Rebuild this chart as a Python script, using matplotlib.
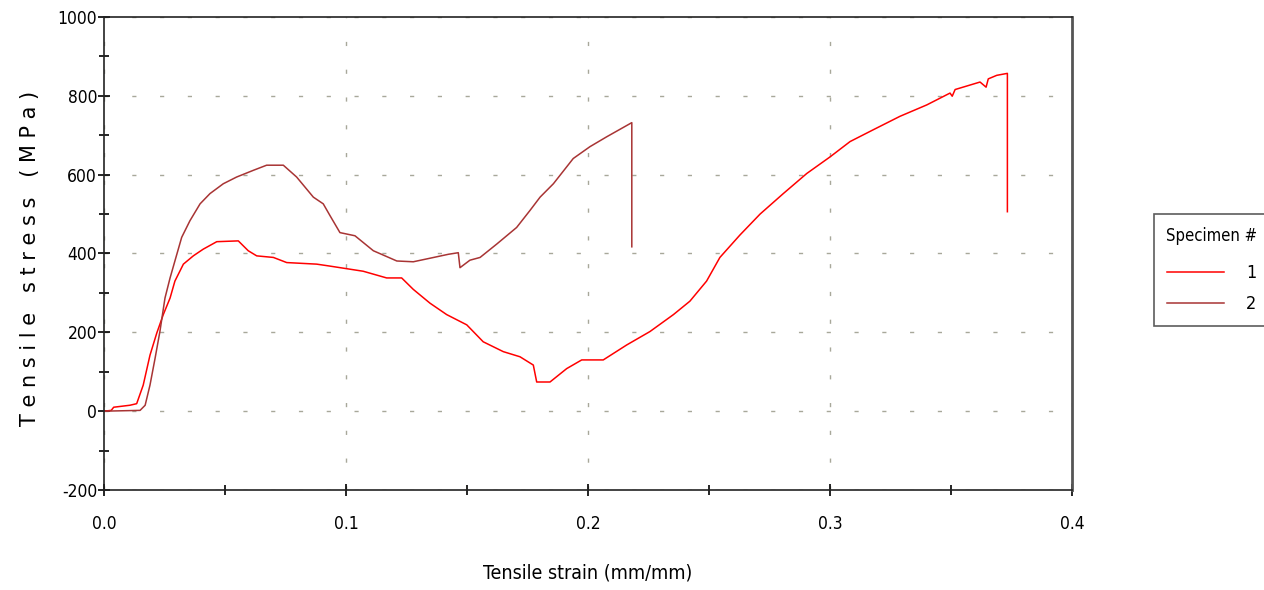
import numpy as np
import matplotlib.pyplot as plt
from matplotlib.ticker import MultipleLocator, FormatStrFormatter

plt.rcParams["axes.unicode_minus"] = False

# specimen 1 (bright red)
strain1 = [0.0, 0.003, 0.004, 0.0107, 0.0135, 0.0162, 0.019, 0.0218, 0.0245, 0.0273,
           0.0293, 0.0328, 0.0369, 0.041, 0.0466, 0.0555, 0.0596, 0.0631, 0.070, 0.0755,
           0.0879, 0.0934, 0.1071, 0.1168, 0.123, 0.1278, 0.1347, 0.1416, 0.1499, 0.1567,
           0.165, 0.1719, 0.1774, 0.1788, 0.1843, 0.1912, 0.1974, 0.2063, 0.216, 0.2256,
           0.2353, 0.2421, 0.249, 0.2545, 0.2628, 0.2711, 0.2807, 0.2904, 0.300, 0.3083,
           0.3179, 0.3289, 0.340, 0.3496, 0.3505, 0.3517, 0.362, 0.3645, 0.3654, 0.3689,
           0.3733, 0.3733]
stress1 = [0, 2, 10, 15, 19, 66, 142, 198, 245, 287,
           330, 373, 394, 411, 430, 432, 407, 394, 390, 377,
           373, 368, 355, 338, 338, 309, 274, 245, 219, 176,
           151, 138, 117, 74, 74, 108, 130, 130, 168, 202,
           245, 279, 330, 390, 447, 500, 552, 603, 645, 684,
           714, 748, 777, 807, 799, 816, 835, 822, 843, 852,
           857, 506]

# specimen 2 (dark red)
strain2 = [0.0, 0.0149, 0.017, 0.019, 0.0211, 0.0231, 0.0252, 0.0273, 0.0293, 0.0321,
           0.0355, 0.0397, 0.0438, 0.0493, 0.0548, 0.0617, 0.0672, 0.0741, 0.0796, 0.0865,
           0.0906, 0.0934, 0.0975, 0.1037, 0.1113, 0.121, 0.1278, 0.1347, 0.1423, 0.1464,
           0.1471, 0.1512, 0.1554, 0.1623, 0.1705, 0.176, 0.1802, 0.1857, 0.1939, 0.2008,
           0.2077, 0.2181, 0.2181]
stress2 = [0, 2, 15, 66, 134, 202, 287, 338, 381, 441,
           483, 526, 552, 577, 594, 611, 624, 624, 594, 543,
           526, 496, 453, 445, 407, 381, 379, 388, 398, 402,
           364, 383, 390, 424, 466, 509, 543, 577, 641, 671,
           696, 732, 417]

xticks = [0.0, 0.1, 0.2, 0.3, 0.4]
yticks = [-200, 0, 200, 400, 600, 800, 1000]

fig = plt.figure(figsize=(12.64, 5.9), dpi=100)
ax = fig.add_axes([104 / 1264, 1 - 490 / 590, 968 / 1264, 473 / 590])

l1, = ax.plot(strain1, stress1, color="#ff0000", lw=1.1, label="1")
l2, = ax.plot(strain2, stress2, color="#a83434", lw=1.1, label="2")

ax.set_xlim(0, 0.4)
ax.set_ylim(-200, 1000)
ax.set_xticks(xticks)
ax.set_yticks(yticks)
ax.xaxis.set_major_formatter(FormatStrFormatter("%.1f"))
ax.xaxis.set_minor_locator(MultipleLocator(0.05))
ax.yaxis.set_minor_locator(MultipleLocator(100))
ax.tick_params(which="both", direction="inout", width=1.2, color="black")
ax.tick_params(which="major", length=8)
ax.tick_params(which="minor", length=7)
ax.tick_params(axis="x", pad=14)
ax.tick_params(axis="y", pad=1)
for lab in ax.get_xticklabels() + ax.get_yticklabels():
    lab.set_fontsize(12.5)
    lab.set_fontstretch("condensed")

for s in ax.spines.values():
    s.set_linewidth(1.2)
    s.set_color("#222222")
ax.spines["right"].set_color("#555555")
ax.spines["right"].set_linewidth(2)

ax.grid(True, which="major", color="#a8a89a", linestyle=(0, (3, 17)), linewidth=1.0)

ax.set_xlabel("Tensile strain (mm/mm)", fontsize=14, fontstretch="condensed", labelpad=22)
ax.set_ylabel("T e n s i l e   s t r e s s   ( M P a )", fontsize=15)
ax.yaxis.set_label_coords(-0.066, 0.49)

leg = fig.legend(handles=[l1, l2], title="Specimen #", loc="upper left",
                 bbox_to_anchor=(1154 / 1264, 1 - 214 / 590), frameon=True,
                 fancybox=False, edgecolor="#333333", fontsize=13,
                 title_fontsize=12, handlelength=3.2, handletextpad=1.2,
                 borderpad=0.4, labelspacing=0.75, borderaxespad=0)
leg.get_frame().set_linewidth(1.2)
leg.get_title().set_fontstretch("condensed")
for t in leg.get_texts():
    t.set_fontstretch("condensed")
leg._legend_box.align = "left"
leg._legend_box.pad = 9
leg._legend_box.sep = 14

fig.savefig("out.png", dpi=100)
